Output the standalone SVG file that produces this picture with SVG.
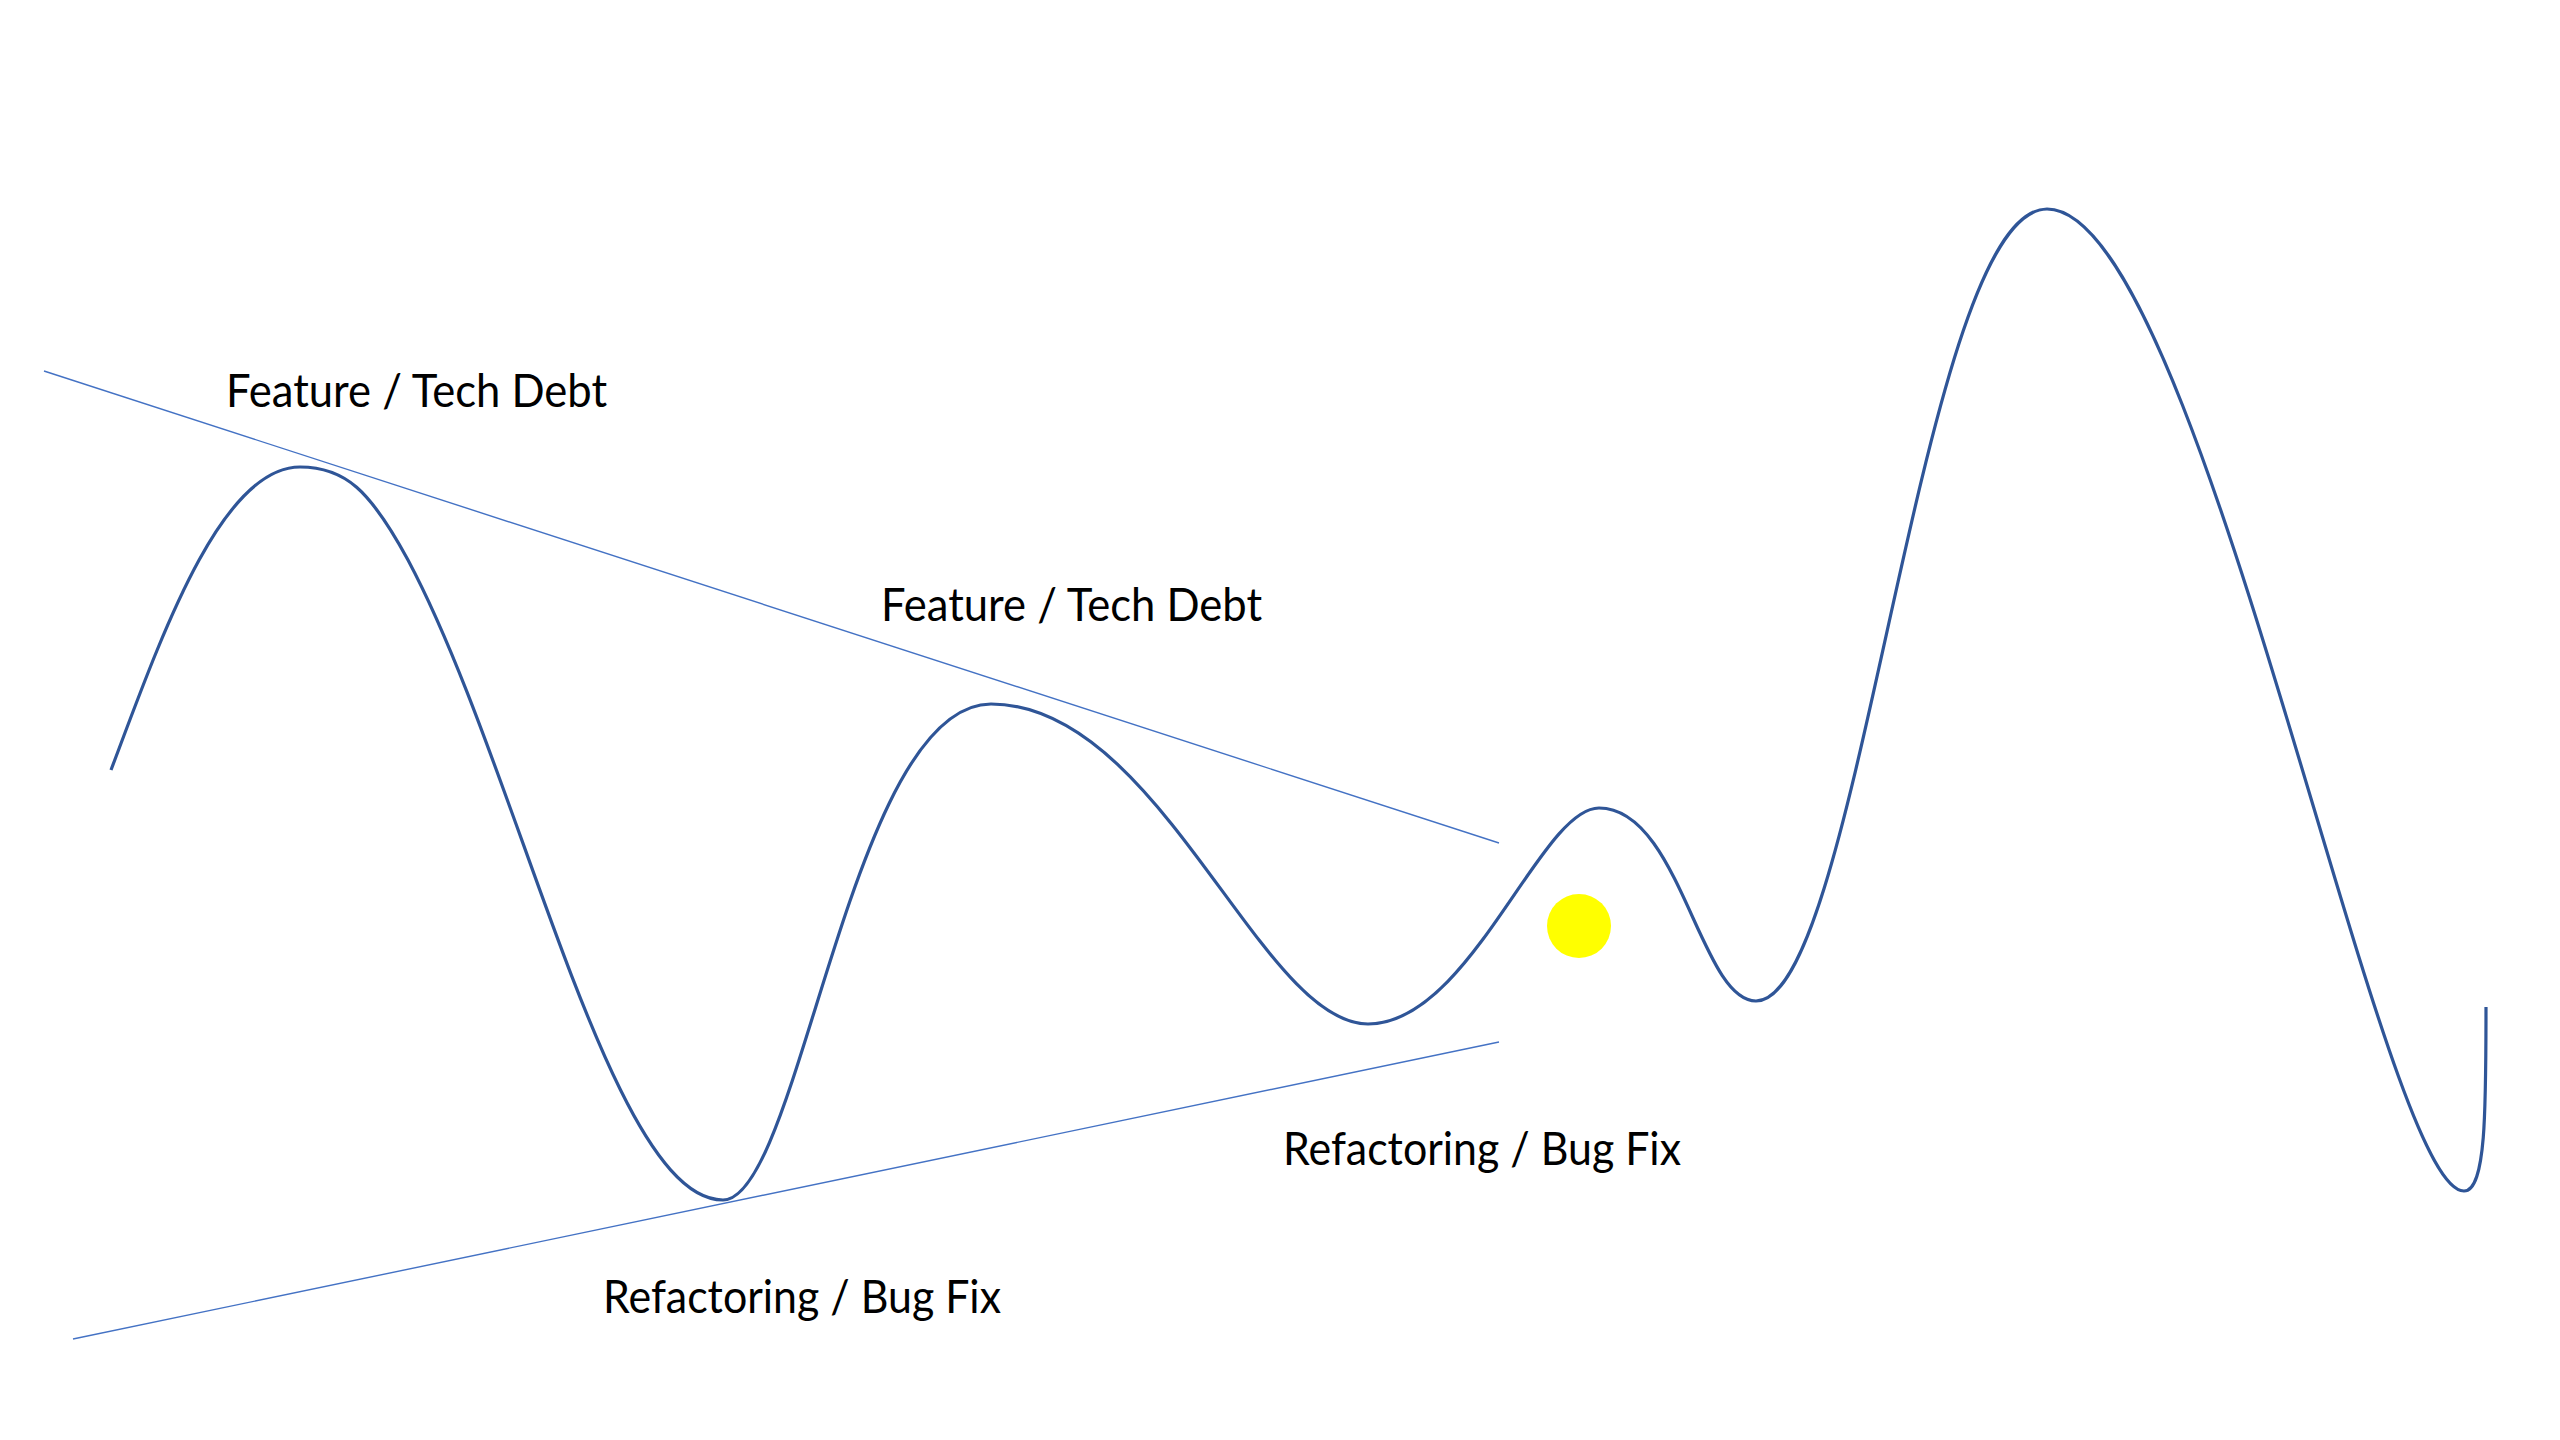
<svg xmlns="http://www.w3.org/2000/svg" width="2560" height="1440" viewBox="0 0 2560 1440">
<style>
.lbl{font-family:"Lato","Liberation Sans",sans-serif;font-size:46px;fill:#000}
.trend{stroke:#4472C4;stroke-width:1.4;fill:none}
.wave{stroke:#2F5597;stroke-width:3.2;fill:none}
</style>
<rect width="2560" height="1440" fill="#fff"/>
<g id="connectors">
<line id="upper-trend" class="trend" x1="44" y1="371" x2="1499" y2="843"/>
<line id="lower-trend" class="trend" x1="73" y1="1339" x2="1499" y2="1042"/>
</g>
<g id="wave">
<path class="wave" d="M111,770 C160,640 220,467 300,467 C345,467 370,490 408,560 C520,770 610,1200 723,1200 C800,1200 850,704 991,704 C1160,704 1260,1024 1368,1024 C1470,1024 1540,808 1599,808 C1680,808 1700,1001 1756,1001 C1860,1001 1920,209 2047,209 C2200,209 2380,1191 2464,1191 C2486,1191 2486,1110 2486,1007"/>
</g>
<g id="ball"><circle cx="1579" cy="926" r="32" fill="#FFFF00"/></g>
<g id="label-feature-1"><text class="lbl" x="226" y="407" textLength="381" lengthAdjust="spacingAndGlyphs">Feature / Tech Debt</text></g>
<g id="label-feature-2"><text class="lbl" x="881" y="621" textLength="381" lengthAdjust="spacingAndGlyphs">Feature / Tech Debt</text></g>
<g id="label-refactor-1"><text class="lbl" x="603" y="1313" textLength="398" lengthAdjust="spacingAndGlyphs">Refactoring / Bug Fix</text></g>
<g id="label-refactor-2"><text class="lbl" x="1283" y="1165" textLength="398" lengthAdjust="spacingAndGlyphs">Refactoring / Bug Fix</text></g>
</svg>
